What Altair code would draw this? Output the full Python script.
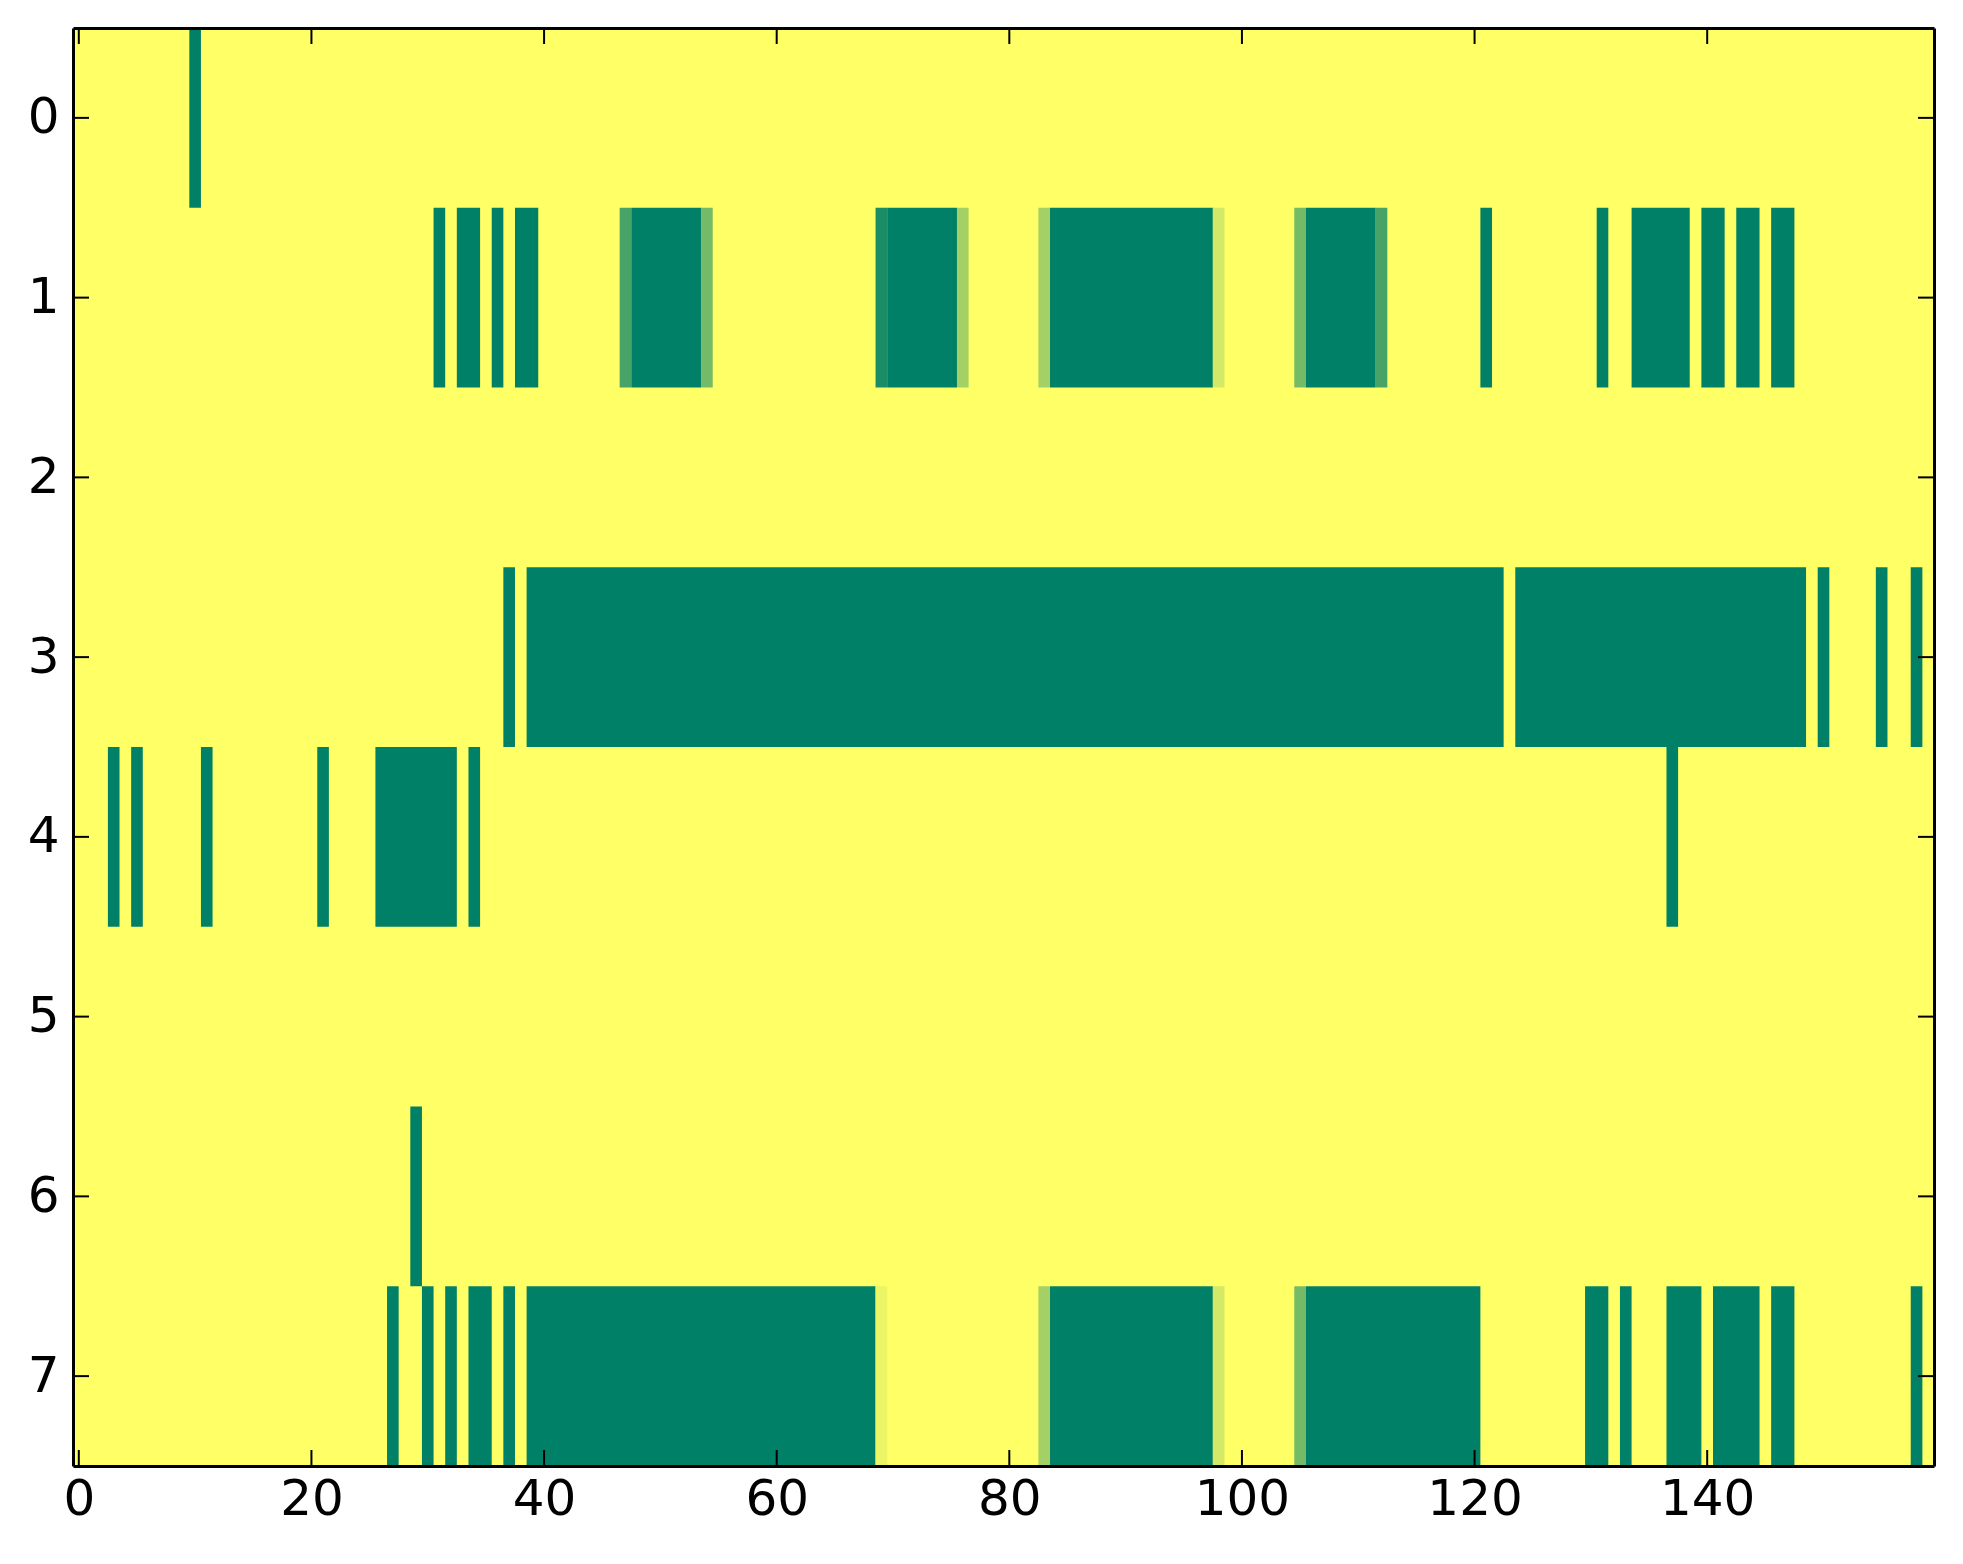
import altair as alt
import pandas as pd

# Grid size
N_COLS = 160
N_ROWS = 8

# Non-yellow runs per row: (first column, last column, value); all other cells are 1.0
row0 = [(10, 10, 0.0)]
row1 = [(31, 31, 0.0), (33, 34, 0.0), (36, 36, 0.0), (38, 39, 0.0),
        (47, 47, 0.28), (48, 53, 0.0), (54, 54, 0.46),
        (69, 69, 0.10), (70, 75, 0.0), (76, 76, 0.64),
        (83, 83, 0.64), (84, 97, 0.0), (98, 98, 0.83),
        (105, 105, 0.46), (106, 111, 0.0), (112, 112, 0.28),
        (121, 121, 0.0), (131, 131, 0.0), (134, 138, 0.0), (140, 141, 0.0),
        (143, 144, 0.0), (146, 147, 0.0)]
row2 = []
row3 = [(37, 37, 0.0), (39, 122, 0.0), (124, 148, 0.0), (150, 150, 0.0),
        (155, 155, 0.0), (158, 158, 0.0)]
row4 = [(3, 3, 0.0), (5, 5, 0.0), (11, 11, 0.0), (21, 21, 0.0), (26, 32, 0.0),
        (34, 34, 0.0), (137, 137, 0.0)]
row5 = []
row6 = [(29, 29, 0.0)]
row7 = [(27, 27, 0.0), (30, 30, 0.0), (32, 32, 0.0), (34, 35, 0.0), (37, 37, 0.0),
        (39, 68, 0.0), (69, 69, 0.92), (83, 83, 0.64), (84, 97, 0.0), (98, 98, 0.83),
        (105, 105, 0.46), (106, 120, 0.0), (130, 131, 0.0), (133, 133, 0.0),
        (137, 139, 0.0), (141, 144, 0.0), (146, 147, 0.0), (158, 158, 0.0)]

rows = [row0, row1, row2, row3, row4, row5, row6, row7]

# Tick labels
x_ticks = [0, 20, 40, 60, 80, 100, 120, 140]
y_ticks = [0, 1, 2, 3, 4, 5, 6, 7]

W, H = 1861, 1438
TICK = 16
FONT = "DejaVu Sans"

recs = []
for r, runs in enumerate(rows):
    for s, e, v in runs:
        recs.append({"x0": s - 0.5, "x1": e + 0.5, "y0": r - 0.5, "y1": r + 0.5, "v": v})
runs_df = pd.DataFrame(recs)

bg_df = pd.DataFrame([{"x0": -0.5, "x1": N_COLS - 0.5, "y0": -0.5, "y1": N_ROWS - 0.5, "v": 1.0}])

xscale = alt.Scale(domain=[-0.5, N_COLS - 0.5], nice=False, zero=False)
yscale = alt.Scale(domain=[-0.5, N_ROWS - 0.5], nice=False, zero=False, reverse=True)
cscale = alt.Scale(domain=[0, 1], range=["#008066", "#ffff66"], interpolate="rgb")

axis_common = dict(grid=False, ticks=False, domainColor="black", domainWidth=3,
                   labelFont=FONT, labelFontSize=50, labelColor="black",
                   zindex=1, title=None)

bg = alt.Chart(bg_df).mark_rect(strokeWidth=0).encode(
    x=alt.X("x0:Q", scale=xscale,
            axis=alt.Axis(orient="bottom", values=x_ticks, labelFlush=False,
                          labelPadding=8, **axis_common)),
    x2="x1:Q",
    y=alt.Y("y0:Q", scale=yscale,
            axis=alt.Axis(orient="left", values=y_ticks, labelPadding=14, **axis_common)),
    y2="y1:Q",
    color=alt.Color("v:Q", scale=cscale, legend=None),
)

cells = alt.Chart(runs_df).mark_rect(strokeWidth=0).encode(
    x=alt.X("x0:Q", scale=xscale,
            axis=alt.Axis(orient="top", values=x_ticks, labels=False, **axis_common)),
    x2="x1:Q",
    y=alt.Y("y0:Q", scale=yscale,
            axis=alt.Axis(orient="right", values=y_ticks, labels=False, **axis_common)),
    y2="y1:Q",
    color=alt.Color("v:Q", scale=cscale, legend=None),
)

xt_df = pd.DataFrame({"t": x_ticks})
yt_df = pd.DataFrame({"t": y_ticks})

tick_bottom = alt.Chart(xt_df).mark_rule(color="black", strokeWidth=2).encode(
    x=alt.X("t:Q", scale=xscale, axis=None), y=alt.value(H), y2=alt.value(H - TICK))
tick_top = alt.Chart(xt_df).mark_rule(color="black", strokeWidth=2).encode(
    x=alt.X("t:Q", scale=xscale, axis=None), y=alt.value(0), y2=alt.value(TICK))
tick_left = alt.Chart(yt_df).mark_rule(color="black", strokeWidth=2).encode(
    y=alt.Y("t:Q", scale=yscale, axis=None), x=alt.value(0), x2=alt.value(TICK))
tick_right = alt.Chart(yt_df).mark_rule(color="black", strokeWidth=2).encode(
    y=alt.Y("t:Q", scale=yscale, axis=None), x=alt.value(W), x2=alt.value(W - TICK))

chart = alt.layer(bg, cells, tick_bottom, tick_top, tick_left, tick_right).resolve_axis(
    x="independent", y="independent"
).properties(
    width=W, height=H,
    padding={"left": 19, "top": 19, "right": 20, "bottom": 10},
    background="white",
).configure_view(stroke=None)

chart.save("out.html", embed_options={"renderer": "svg", "actions": False})
